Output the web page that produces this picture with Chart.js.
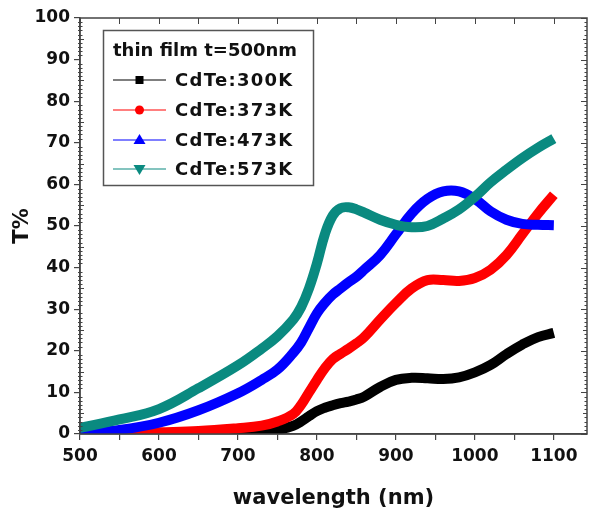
<!DOCTYPE html>
<html><head><meta charset="utf-8">
<script src="https://cdn.jsdelivr.net/npm/chart.js@4.4.0/dist/chart.umd.min.js"></script>
<style>html,body{margin:0;padding:0;background:#fff;}canvas{display:block;}</style>
</head><body>
<canvas id="c" width="592" height="513"></canvas>
<script>
const wavelengths = [500,550,600,650,700,730,750,770,780,790,800,810,820,830,840,850,860,880,900,920,940,960,980,1000,1020,1040,1060,1080,1100];
const t300K = [0,0,0,0,0.2,0.5,1,2,3,4.3,5.5,6.3,6.9,7.4,7.8,8.3,9,11.3,13,13.5,13.4,13.2,13.6,14.8,16.6,19.2,21.5,23.3,24.3];
const t373K = [0,0.1,0.4,0.7,1.4,2,3,4.8,7,10,13,15.8,18,19.3,20.5,21.8,23.3,27.5,31.5,35,37,37,36.8,37.5,39.5,43,48,53,57.5];
const t473K = [0.2,1,2.7,5.7,9.8,13,15.5,19.5,22,25.5,29,31.5,33.5,35,36.5,37.8,39.5,43,48,53,56.5,58.3,58.3,56.5,53.5,51.5,50.5,50.3,50.2];
const t573K = [1.5,3.5,6,11,16.5,20.5,23.5,27.5,30.5,35,41,48,52.5,54.3,54.5,54,53.2,51.5,50.3,49.7,50,51.8,54,57,60.5,63.5,66.3,68.8,71];
const seriesLabels = ['CdTe:300K','CdTe:373K','CdTe:473K','CdTe:573K'];
const seriesColors = ['#000000','#ff0000','#0000ff','#0a8a80'];
const seriesMarkers = ['rect','circle','triangle','invtriangle'];
const legendTitle = 'thin film t=500nm';
const xAxisTitle = 'wavelength (nm)';
const yAxisTitle = 'T%';

const FONT = "'DejaVu Sans', sans-serif";
const AXIS = '#444';
const seriesValues = [t300K, t373K, t473K, t573K];

const datasets = seriesValues.map((vals, i) => ({
  label: seriesLabels[i],
  data: wavelengths.map((w, j) => ({x: w, y: vals[j]})),
  borderColor: seriesColors[i],
  backgroundColor: seriesColors[i],
  borderWidth: 10,
  pointRadius: 0,
  fill: false,
  tension: 0.4,
  borderCapStyle: 'butt',
  order: 4 - i
}));

function drawMarker(ctx, type, x, y, color) {
  ctx.fillStyle = color;
  ctx.beginPath();
  if (type === 'rect') { ctx.rect(x - 4, y - 4, 8, 8); }
  else if (type === 'circle') { ctx.arc(x, y, 4.5, 0, Math.PI * 2); }
  else if (type === 'triangle') { ctx.moveTo(x, y - 6); ctx.lineTo(x + 6, y + 4); ctx.lineTo(x - 6, y + 4); ctx.closePath(); }
  else { ctx.moveTo(x, y + 6); ctx.lineTo(x + 6, y - 4); ctx.lineTo(x - 6, y - 4); ctx.closePath(); }
  ctx.fill();
}

const framePlugin = {
  id: 'frame',
  afterDraw(chart) {
    const ctx = chart.ctx;
    const a = chart.chartArea;
    const xs = chart.scales.x, ys = chart.scales.y;
    ctx.save();
    ctx.strokeStyle = AXIS;
    ctx.lineWidth = 1.5;
    ctx.strokeRect(a.left, a.top, a.right - a.left, a.bottom - a.top);
    ctx.lineWidth = 1;
    ctx.beginPath();
    for (let v = 500; v <= 1100; v += 50) {
      const px = Math.round(xs.getPixelForValue(v)) + 0.5;
      ctx.moveTo(px, a.top); ctx.lineTo(px, a.top + 6);
    }
    for (let v = 0; v <= 100; v += 1) {
      const py = Math.round(ys.getPixelForValue(v)) + 0.5;
      const major = v % 10 === 0;
      const mid = v % 5 === 0;
      ctx.moveTo(a.right, py); ctx.lineTo(a.right - (major ? 6 : (mid ? 4 : 2.5)), py);
      if (!major) { ctx.moveTo(a.left - 2, py); ctx.lineTo(a.left + (mid ? 4 : 2.5), py); }
    }
    ctx.stroke();

    // legend
    const bx = 103.5, by = 30.5, bw = 210, bh = 155;
    ctx.fillStyle = '#fff';
    ctx.fillRect(bx, by, bw, bh);
    ctx.strokeStyle = '#555';
    ctx.lineWidth = 1.5;
    ctx.strokeRect(bx, by, bw, bh);
    ctx.fillStyle = '#111';
    ctx.textBaseline = 'middle';
    ctx.textAlign = 'left';
    ctx.font = 'bold 18px ' + FONT;
    ctx.fillText(legendTitle, 113, 51);
    const rows = [80, 110, 140, 169];
    chart.data.datasets.forEach((ds, i) => {
      const y = rows[i];
      ctx.strokeStyle = ds.borderColor;
      ctx.lineWidth = 1.2;
      ctx.beginPath(); ctx.moveTo(113, y); ctx.lineTo(166, y); ctx.stroke();
      drawMarker(ctx, seriesMarkers[i], 139.5, y, ds.borderColor);
      ctx.fillStyle = '#111';
      ctx.font = 'bold 18px ' + FONT;
      try { ctx.letterSpacing = '1.3px'; } catch (e) {}
      ctx.fillText(ds.label, 175, y + 1);
      try { ctx.letterSpacing = '0px'; } catch (e) {}
    });
    ctx.restore();
  }
};

new Chart(document.getElementById('c'), {
  type: 'line',
  data: { datasets },
  plugins: [framePlugin],
  options: {
    responsive: false,
    animation: false,
    devicePixelRatio: 1,
    layout: { padding: { top: 18, right: 5, left: 0, bottom: 0 } },
    plugins: { legend: { display: false }, tooltip: { enabled: false } },
    scales: {
      x: {
        type: 'linear', min: 500, max: 1142,
        ticks: {
          stepSize: 50, includeBounds: false, autoSkip: false, maxRotation: 0, minRotation: 0,
          callback: v => (v % 100 === 0 ? String(v) : ''),
          font: { family: FONT, size: 17, weight: 'bold' }, color: '#111', padding: 6
        },
        grid: { drawOnChartArea: false, drawTicks: true, tickLength: 6, color: AXIS, lineWidth: 1.2 },
        border: { color: AXIS, width: 1.5 },
        title: { display: true, text: xAxisTitle, font: { family: FONT, size: 21, weight: 'bold' }, color: '#111', padding: { top: 0, bottom: 2 } },
        afterFit: s => { s.height = 79; }
      },
      y: {
        min: 0, max: 100,
        ticks: { stepSize: 10, font: { family: FONT, size: 17, weight: 'bold' }, color: '#111', padding: 4 },
        grid: { drawOnChartArea: false, drawTicks: true, tickLength: 6, color: AXIS, lineWidth: 1.2 },
        border: { color: AXIS, width: 1.5 },
        title: { display: true, text: yAxisTitle, font: { family: FONT, size: 21, weight: 'bold' }, color: '#111', padding: { top: 10, bottom: 0 } },
        afterFit: s => { s.width = 80; }
      }
    }
  }
});
</script>
</body></html>
